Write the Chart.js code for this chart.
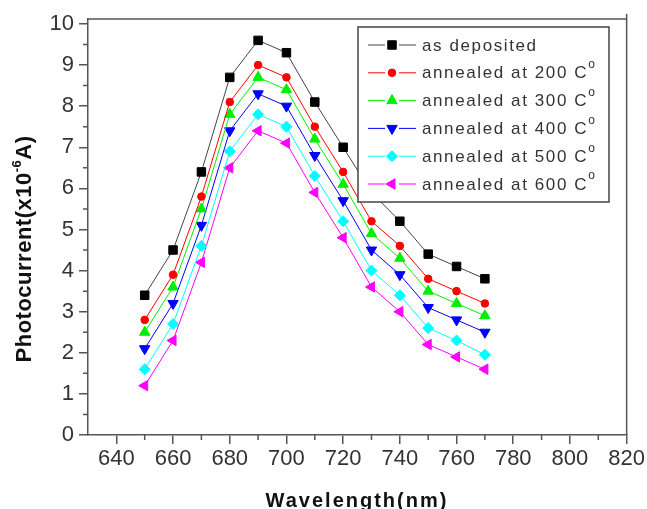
<!DOCTYPE html>
<html>
<head>
<meta charset="utf-8">
<script src="https://cdn.jsdelivr.net/npm/chart.js@4/dist/chart.umd.min.js"></script>
<style>
body{margin:0;background:#fff}
</style>
</head>
<body>
<canvas id="myChart" width="647" height="509"></canvas>
<script>
var wavelengths = [650,660,670,680,690,700,710,720,730,740,750,760,770]
var asDeposited = [3.4,4.5,6.4,8.7,9.6,9.3,8.1,7.0,5.9,5.2,4.4,4.1,3.8]
var annealed200 = [2.8,3.9,5.8,8.1,9.0,8.7,7.5,6.4,5.2,4.6,3.8,3.5,3.2]
var annealed300 = [2.5,3.6,5.5,7.8,8.7,8.4,7.2,6.1,4.9,4.3,3.5,3.2,2.9]
var annealed400 = [2.1,3.2,5.1,7.4,8.3,8.0,6.8,5.7,4.5,3.9,3.1,2.8,2.5]
var annealed500 = [1.6,2.7,4.6,6.9,7.8,7.5,6.3,5.2,4.0,3.4,2.6,2.3,1.95]
var annealed600 = [1.2,2.3,4.2,6.5,7.4,7.1,5.9,4.8,3.6,3.0,2.2,1.9,1.6]

var seriesLabels = ['as deposited','annealed at 200 C','annealed at 300 C','annealed at 400 C','annealed at 500 C','annealed at 600 C']
var xTickValues = [640,660,680,700,720,740,760,780,800,820]
var xMinorTicks = [650,670,690,710,730,750,770,790,810]
var yTickValues = [0,1,2,3,4,5,6,7,8,9,10]
var yMinorTicks = [0.5,1.5,2.5,3.5,4.5,5.5,6.5,7.5,8.5,9.5]

var axisColor = '#555'

function toPoints(values){
  return values.map(function(v, i){ return {x: wavelengths[i], y: v} })
}

function makeSet(label, values, lineColor, markColor, style, radius, rotation){
  return {
    label: label,
    data: toPoints(values),
    borderColor: lineColor,
    borderWidth: 1,
    backgroundColor: markColor,
    pointBackgroundColor: markColor,
    pointBorderColor: markColor,
    pointBorderWidth: 1,
    pointStyle: style,
    pointRadius: radius,
    pointRotation: rotation,
    tension: 0
  }
}

// axis titles, frame, minor ticks and the Origin style legend
var extras = {
  id: 'extras',
  beforeDatasetsDraw: function(chart){
    var ctx = chart.ctx, a = chart.chartArea
    var xs = chart.scales.x, ys = chart.scales.y
    ctx.save()
    ctx.strokeStyle = axisColor
    ctx.lineWidth = 1.5
    ctx.beginPath()
    ctx.moveTo(a.left, a.top)
    ctx.lineTo(a.right, a.top)
    ctx.moveTo(a.right, a.top - 5)
    ctx.lineTo(a.right, a.bottom)
    xMinorTicks.forEach(function(v){
      var px = xs.getPixelForValue(v)
      ctx.moveTo(px, a.bottom)
      ctx.lineTo(px, a.bottom + 5)
    })
    yMinorTicks.forEach(function(v){
      var py = ys.getPixelForValue(v)
      ctx.moveTo(a.left - 5, py)
      ctx.lineTo(a.left, py)
    })
    ctx.stroke()

    // x title
    ctx.fillStyle = '#111'
    ctx.font = 'bold 20px "Liberation Sans", Arial, sans-serif'
    ctx.letterSpacing = '2px'
    ctx.textAlign = 'center'
    ctx.textBaseline = 'alphabetic'
    ctx.fillText('Wavelength(nm)', 357, 507)

    // y title with superscript
    ctx.letterSpacing = '0.5px'
    ctx.translate(31, 249)
    ctx.rotate(-Math.PI / 2)
    ctx.textAlign = 'left'
    var big = 'bold 22px "Liberation Sans", Arial, sans-serif'
    var small = 'bold 13px "Liberation Sans", Arial, sans-serif'
    ctx.font = big
    var w1 = ctx.measureText('Photocurrent(x10').width
    var w3 = ctx.measureText('A)').width
    ctx.font = small
    var w2 = ctx.measureText('-6').width
    var x0 = -(w1 + w2 + w3) / 2
    ctx.font = big
    ctx.fillText('Photocurrent(x10', x0, 0)
    ctx.font = small
    ctx.fillText('-6', x0 + w1, -10)
    ctx.font = big
    ctx.fillText('A)', x0 + w1 + w2, 0)
    ctx.restore()
  },
  afterDraw: function(chart){
    var ctx = chart.ctx
    var box = {left: 358, top: 27, right: 609, bottom: 202}
    ctx.save()
    ctx.fillStyle = '#fff'
    ctx.fillRect(box.left, box.top, box.right - box.left, box.bottom - box.top)
    ctx.strokeStyle = '#444'
    ctx.lineWidth = 1.5
    ctx.strokeRect(box.left, box.top, box.right - box.left, box.bottom - box.top)

    chart.data.datasets.forEach(function(ds, i){
      var cy = 45 + i * 27.8
      ctx.strokeStyle = ds.borderColor
      ctx.lineWidth = 1
      ctx.beginPath()
      ctx.moveTo(368, cy)
      ctx.lineTo(385, cy)
      ctx.moveTo(399, cy)
      ctx.lineTo(416, cy)
      ctx.stroke()
      ctx.fillStyle = ds.pointBackgroundColor
      ctx.strokeStyle = ds.pointBorderColor
      Chart.helpers.drawPoint(ctx, {
        pointStyle: ds.pointStyle,
        rotation: ds.pointRotation,
        radius: ds.pointRadius,
        borderWidth: 1
      }, 392, cy)

      ctx.fillStyle = '#333'
      ctx.font = '17px "Liberation Sans", Arial, sans-serif'
      ctx.letterSpacing = '1.6px'
      ctx.textAlign = 'left'
      ctx.textBaseline = 'middle'
      ctx.fillText(ds.label, 422, cy + 1)
      if (i > 0) {
        var tw = ctx.measureText(ds.label).width
        ctx.font = '12px "Liberation Sans", Arial, sans-serif'
        ctx.letterSpacing = '0px'
        ctx.fillText('o', 422 + tw, cy - 8)
      }
    })
    ctx.restore()
  }
}

function drawChart(){
  var ctx = document.getElementById('myChart').getContext('2d')
  new Chart(ctx, {
    type: 'line',
    data: {
      datasets: [
        makeSet(seriesLabels[0], asDeposited, '#444', '#000', 'rect', 6, 0),
        makeSet(seriesLabels[1], annealed200, '#ff0000', '#ff0000', 'circle', 3.8, 0),
        makeSet(seriesLabels[2], annealed300, '#00ee00', '#00ee00', 'triangle', 6, 0),
        makeSet(seriesLabels[3], annealed400, '#0000ff', '#0000ff', 'triangle', 6, 180),
        makeSet(seriesLabels[4], annealed500, '#00ffff', '#00ffff', 'rectRot', 5.5, 0),
        makeSet(seriesLabels[5], annealed600, '#ff00ff', '#ff00ff', 'triangle', 6, 270)
      ]
    },
    options: {
      responsive: false,
      animation: false,
      layout: {padding: {left: 0, top: 19, right: 19, bottom: 0}},
      plugins: {
        legend: {display: false},
        tooltip: {enabled: false}
      },
      scales: {
        x: {
          type: 'linear',
          min: 630,
          max: 820,
          afterBuildTicks: function(scale){
            scale.ticks = xTickValues.map(function(v){ return {value: v} })
          },
          afterFit: function(scale){ scale.height = 74 },
          grid: {drawOnChartArea: false, tickLength: 9, color: axisColor, lineWidth: 1.5},
          border: {color: axisColor, width: 1.5},
          ticks: {
            color: '#333',
            padding: 2,
            maxRotation: 0,
            font: {family: '"Liberation Sans", Arial, sans-serif', size: 22}
          }
        },
        y: {
          min: 0,
          max: 10.12,
          afterBuildTicks: function(scale){
            scale.ticks = yTickValues.map(function(v){ return {value: v} })
          },
          afterFit: function(scale){ scale.width = 88 },
          grid: {drawOnChartArea: false, tickLength: 9, color: axisColor, lineWidth: 1.5},
          border: {color: axisColor, width: 1.5},
          ticks: {
            color: '#333',
            padding: 5,
            font: {family: '"Liberation Sans", Arial, sans-serif', size: 22}
          }
        }
      }
    },
    plugins: [extras]
  })
}

document.addEventListener('DOMContentLoaded', drawChart)
</script>
</body>
</html>
